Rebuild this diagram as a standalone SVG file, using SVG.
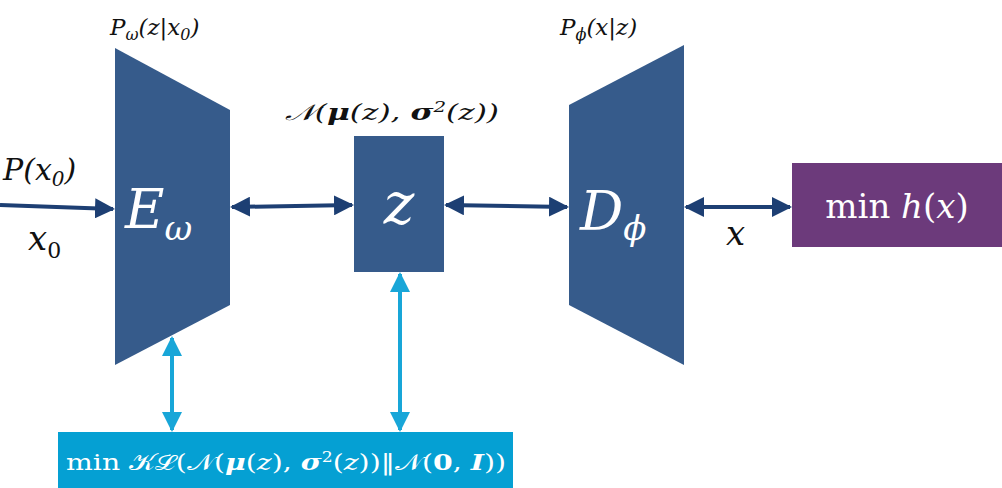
<svg xmlns="http://www.w3.org/2000/svg" width="1002" height="488" viewBox="0 0 1002 488">
<style>
.blk{fill:#365b8b}
.m{font-family:"DejaVu Serif","Liberation Serif",serif;font-style:italic}
.w{fill:#fff}
.k{fill:#111}
.dk{stroke:#1d3f73;stroke-width:4;fill:none}
.lt{stroke:#18a6d8;stroke-width:4;fill:none}
</style>
<defs>
<marker id="ad" viewBox="0 0 10 10" refX="9" refY="5" markerWidth="5" markerHeight="5" orient="auto-start-reverse"><path d="M0,0L10,5L0,10z" fill="#1d3f73"/></marker>
<marker id="al" viewBox="0 0 10 10" refX="9" refY="5" markerWidth="5" markerHeight="5" orient="auto-start-reverse"><path d="M0,0L10,5L0,10z" fill="#18a6d8"/></marker>
</defs>
<rect width="1002" height="488" fill="#fff"/>
<g id="connectors">
<line class="dk" x1="0" y1="205" x2="113" y2="209" marker-end="url(#ad)"/>
<line class="dk" x1="232" y1="207" x2="352" y2="205" marker-start="url(#ad)" marker-end="url(#ad)"/>
<line class="dk" x1="446" y1="205" x2="567" y2="207" marker-start="url(#ad)" marker-end="url(#ad)"/>
<line class="dk" x1="686" y1="207" x2="790" y2="207" marker-start="url(#ad)" marker-end="url(#ad)"/>
<line class="lt" x1="172" y1="338" x2="172" y2="430" marker-start="url(#al)" marker-end="url(#al)"/>
<line class="lt" x1="400" y1="274" x2="400" y2="430" marker-start="url(#al)" marker-end="url(#al)"/>
</g>
<g id="encoder">
<polygon class="blk" points="115,48 230,110 230,305 115,365"/>
<text class="m w" x="125" y="228" font-size="54">E<tspan font-size="34" dy="12">ω</tspan></text>
<text class="m k" x="110" y="35" font-size="23">P<tspan font-size="16" dy="5">ω</tspan><tspan dy="-5">(z|x</tspan><tspan font-size="16" dy="5">0</tspan><tspan dy="-5">)</tspan></text>
</g>
<g id="latent">
<rect class="blk" x="354" y="136" width="90" height="136"/>
<text class="m w" x="399" y="224" font-size="58" text-anchor="middle">z</text>
<text class="m k" x="285" y="120" font-size="22" textLength="214" lengthAdjust="spacingAndGlyphs">𝒩(<tspan font-weight="bold">μ</tspan>(z), <tspan font-weight="bold">σ</tspan><tspan font-size="14" dy="-8">2</tspan><tspan dy="8">(z))</tspan></text>
</g>
<g id="decoder">
<polygon class="blk" points="569,105 684,45 684,365 569,305"/>
<text class="m w" x="580" y="230" font-size="54">D<tspan font-size="34" dy="10">ϕ</tspan></text>
<text class="m k" x="560" y="35" font-size="23">P<tspan font-size="16" dy="5">ϕ</tspan><tspan dy="-5">(x|z)</tspan></text>
</g>
<g id="input">
<text class="m k" x="3" y="180" font-size="30">P(x<tspan font-size="20" dy="6">0</tspan><tspan dy="-6">)</tspan></text>
<text class="m k" x="28" y="250" font-size="34">x<tspan font-size="22" dy="8" font-style="normal">0</tspan></text>
</g>
<g id="xlabel"><text class="m k" x="726" y="245" font-size="34">x</text></g>
<g id="objective">
<rect x="792" y="163" width="210" height="84" fill="#6c3a7b"/>
<text x="897" y="218" font-size="34" text-anchor="middle" class="w" font-family="DejaVu Serif,Liberation Serif,serif">min <tspan font-style="italic">h</tspan>(<tspan font-style="italic">x</tspan>)</text>
</g>
<g id="kl">
<rect x="58" y="432" width="455" height="56" fill="#05a0d3"/>
<text x="66" y="470" font-size="23" class="w" font-family="DejaVu Serif,Liberation Serif,serif" textLength="440" lengthAdjust="spacingAndGlyphs">min 𝒦ℒ(𝒩(<tspan font-weight="bold" font-style="italic">μ</tspan>(<tspan font-style="italic">z</tspan>), <tspan font-weight="bold" font-style="italic">σ</tspan><tspan font-size="14" dy="-8">2</tspan><tspan dy="8">(</tspan><tspan font-style="italic">z</tspan>))‖𝒩(<tspan font-weight="bold">0</tspan>, <tspan font-weight="bold" font-style="italic">I</tspan>))</text>
</g>
</svg>
